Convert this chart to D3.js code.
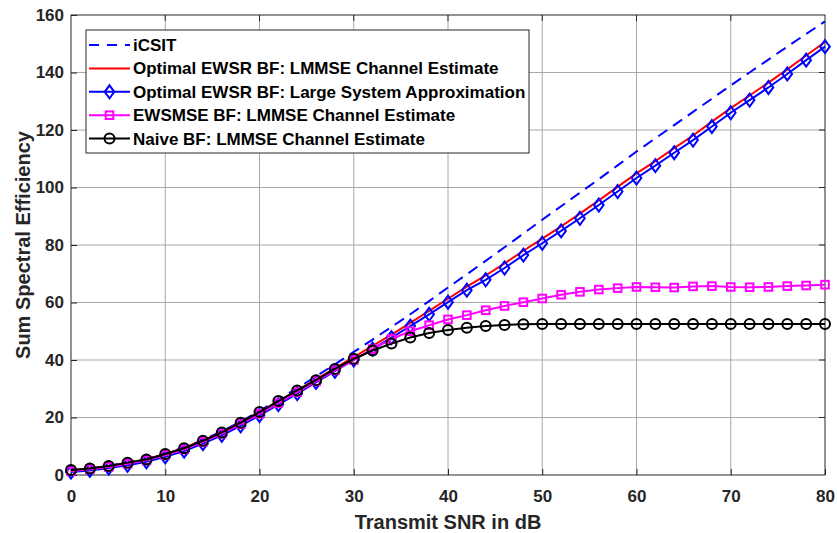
<!DOCTYPE html>
<html>
<head>
<meta charset="utf-8">
<script src="https://cdn.jsdelivr.net/npm/d3@7"></script>
<style>
  body { margin: 0; background: #fff; }
  svg text { font-family: "Liberation Sans", Arial, Helvetica, sans-serif; font-weight: bold; }
</style>
</head>
<body>
<div id="chart"></div>
<script>
// x axis: transmit SNR in dB, one marker every 2 dB
const snrDb = d3.range(0, 82, 2);

const xTicks = [0, 10, 20, 30, 40, 50, 60, 70, 80];
const yTicks = [0, 20, 40, 60, 80, 100, 120, 140, 160];

// values
const icsit = [1.6, 2.3, 3.2, 4.3, 5.6, 7.5, 9.6, 12.2, 15.2, 18.6, 22.3, 26.2, 30.2, 34.3, 38.5,
  42.8, 47.1, 51.5, 55.9, 60.5, 65.2, 69.8, 74.5, 79.2, 84.0, 88.8, 93.5, 98.2, 102.9, 107.7,
  112.5, 117.1, 121.7, 126.3, 130.9, 135.5, 140.0, 144.5, 149.0, 153.4, 157.8];

const ewsrLmmse = [1.6, 2.3, 3.1, 4.2, 5.5, 7.3, 9.4, 12.0, 14.9, 18.2, 21.9, 25.6, 29.4, 33.3, 37.2,
  41.0, 44.9, 48.8, 52.9, 57.1, 61.3, 65.5, 69.4, 73.6, 78.0, 82.2, 86.5, 90.9, 95.5, 100.2,
  104.9, 109.2, 113.7, 118.1, 122.9, 127.6, 132.0, 136.5, 141.1, 145.9, 150.6];

const ewsrLarge = [1.0, 1.6, 2.4, 3.4, 4.6, 6.3, 8.3, 10.9, 13.8, 17.1, 20.7, 24.5, 28.3, 32.2, 36.1,
  40.0, 43.8, 47.8, 51.8, 55.9, 60.1, 64.3, 67.9, 72.0, 76.5, 80.6, 84.9, 89.3, 93.9, 98.6,
  103.3, 107.6, 112.1, 116.5, 121.2, 126.0, 130.4, 134.8, 139.5, 144.3, 149.0];

const ewsmse = [1.3, 2.0, 2.8, 3.9, 5.1, 6.9, 8.9, 11.5, 14.4, 17.7, 21.3, 25.0, 28.8, 32.6, 36.4,
  40.0, 43.8, 47.3, 50.0, 52.1, 54.1, 55.6, 57.3, 58.8, 60.1, 61.4, 62.7, 63.7, 64.5, 65.0,
  65.4, 65.3, 65.2, 65.6, 65.7, 65.4, 65.3, 65.4, 65.7, 65.9, 66.2];

const naive = [1.7, 2.3, 3.1, 4.3, 5.4, 7.3, 9.3, 11.9, 14.8, 18.2, 21.9, 25.7, 29.4, 33.0, 36.9,
  40.4, 43.3, 45.7, 47.8, 49.4, 50.4, 51.2, 51.8, 52.2, 52.4, 52.5, 52.5, 52.5, 52.5, 52.5,
  52.5, 52.5, 52.5, 52.5, 52.5, 52.5, 52.5, 52.5, 52.5, 52.5, 52.5];

const seriesNames = [
  "iCSIT",
  "Optimal EWSR BF: LMMSE Channel Estimate",
  "Optimal EWSR BF: Large System Approximation",
  "EWSMSE BF: LMMSE Channel Estimate",
  "Naive BF: LMMSE Channel Estimate"
];

const series = [
  { name: seriesNames[0], values: icsit, color: "#0000ff", dash: "11,7", marker: null },
  { name: seriesNames[1], values: ewsrLmmse, color: "#ff0000", dash: null, marker: null },
  { name: seriesNames[2], values: ewsrLarge, color: "#0000ff", dash: null, marker: "diamond" },
  { name: seriesNames[3], values: ewsmse, color: "#ff00ff", dash: null, marker: "square" },
  { name: seriesNames[4], values: naive, color: "#000000", dash: null, marker: "circle" }
];

const width = 837, height = 533;
const margin = { top: 15, right: 12, bottom: 58, left: 71 };
const plotW = width - margin.left - margin.right;
const plotH = height - margin.top - margin.bottom;
const axisColor = "#262626";

const svg = d3.select("#chart").append("svg")
  .attr("width", width)
  .attr("height", height);

const g = svg.append("g").attr("transform", `translate(${margin.left},${margin.top})`);

const x = d3.scaleLinear().domain([0, 80]).range([0, plotW]);
const y = d3.scaleLinear().domain([0, 160]).range([plotH, 0]);

// grid lines
g.append("g").selectAll("line.vgrid")
  .data(xTicks.slice(1, -1))
  .enter().append("line")
  .attr("x1", d => x(d)).attr("x2", d => x(d))
  .attr("y1", 0).attr("y2", plotH)
  .attr("stroke", "#a8a8a8").attr("stroke-width", 1);

g.append("g").selectAll("line.hgrid")
  .data(yTicks.slice(1, -1))
  .enter().append("line")
  .attr("x1", 0).attr("x2", plotW)
  .attr("y1", d => y(d)).attr("y2", d => y(d))
  .attr("stroke", "#a8a8a8").attr("stroke-width", 1);

// axes with inward ticks
const xAxis = g.append("g")
  .attr("transform", `translate(0,${plotH})`)
  .call(d3.axisBottom(x).tickValues(xTicks).tickSizeInner(-6).tickSizeOuter(0).tickPadding(15));
const yAxis = g.append("g")
  .call(d3.axisLeft(y).tickValues(yTicks).tickSizeInner(-6).tickSizeOuter(0).tickPadding(7));

[xAxis, yAxis].forEach(ax => {
  ax.select(".domain").remove();
  ax.selectAll("line").attr("stroke", axisColor);
  ax.selectAll("text")
    .attr("fill", axisColor)
    .style("font-size", "17px");
});

// box around the plot
g.append("rect")
  .attr("width", plotW).attr("height", plotH)
  .attr("fill", "none")
  .attr("stroke", axisColor).attr("stroke-width", 1);

// top and right ticks, like matlab's box on
g.append("g").selectAll("line")
  .data(xTicks.slice(1, -1))
  .enter().append("line")
  .attr("x1", d => x(d)).attr("x2", d => x(d))
  .attr("y1", 0).attr("y2", 6)
  .attr("stroke", axisColor);
g.append("g").selectAll("line")
  .data(yTicks.slice(1, -1))
  .enter().append("line")
  .attr("x1", plotW - 6).attr("x2", plotW)
  .attr("y1", d => y(d)).attr("y2", d => y(d))
  .attr("stroke", axisColor);

// axis labels
svg.append("text")
  .attr("x", margin.left + plotW / 2)
  .attr("y", 529)
  .attr("text-anchor", "middle")
  .attr("fill", axisColor)
  .style("font-size", "20px")
  .text("Transmit SNR in dB");

svg.append("text")
  .attr("transform", `translate(30,${margin.top + plotH / 2}) rotate(-90)`)
  .attr("text-anchor", "middle")
  .attr("fill", axisColor)
  .style("font-size", "20px")
  .text("Sum Spectral Efficiency");

// marker shapes
function drawMarker(sel, type, color) {
  if (type === "circle") {
    sel.append("circle").attr("r", 5);
  } else if (type === "square") {
    sel.append("rect").attr("x", -3.8).attr("y", -3.8).attr("width", 7.6).attr("height", 7.6);
  } else if (type === "diamond") {
    sel.append("path").attr("d", "M0,-6.5L4.8,0L0,6.5L-4.8,0Z");
  }
  sel.selectAll("circle, rect, path")
    .attr("fill", "none")
    .attr("stroke", color)
    .attr("stroke-width", 2);
}

const line = d3.line()
  .x(d => x(d[0]))
  .y(d => y(d[1]));

const curves = g.append("g");

series.forEach(s => {
  const pts = snrDb.map((d, i) => [d, s.values[i]]);
  curves.append("path")
    .datum(pts)
    .attr("d", line)
    .attr("fill", "none")
    .attr("stroke", s.color)
    .attr("stroke-width", 2)
    .attr("stroke-dasharray", s.dash);

  if (s.marker) {
    curves.append("g").selectAll("g")
      .data(pts)
      .enter().append("g")
      .attr("transform", d => `translate(${x(d[0])},${y(d[1])})`)
      .each(function() { drawMarker(d3.select(this), s.marker, s.color); });
  }
});

// legend
const legend = svg.append("g").attr("transform", "translate(86,30)");
legend.append("rect")
  .attr("width", 443).attr("height", 123)
  .attr("fill", "#fff")
  .attr("stroke", axisColor).attr("stroke-width", 1);

series.forEach((s, i) => {
  const row = legend.append("g").attr("transform", `translate(0,${15 + i * 23.4})`);
  row.append("line")
    .attr("x1", 3).attr("x2", 44)
    .attr("stroke", s.color).attr("stroke-width", 2)
    .attr("stroke-dasharray", s.dash ? "10,8" : null);
  if (s.marker) {
    const m = row.append("g").attr("transform", "translate(23.5,0)");
    drawMarker(m, s.marker, s.color);
  }
  row.append("text")
    .attr("x", 47)
    .attr("y", 6)
    .attr("fill", "#000")
    .style("font-size", "17px")
    .text(s.name);
});
</script>
</body>
</html>
